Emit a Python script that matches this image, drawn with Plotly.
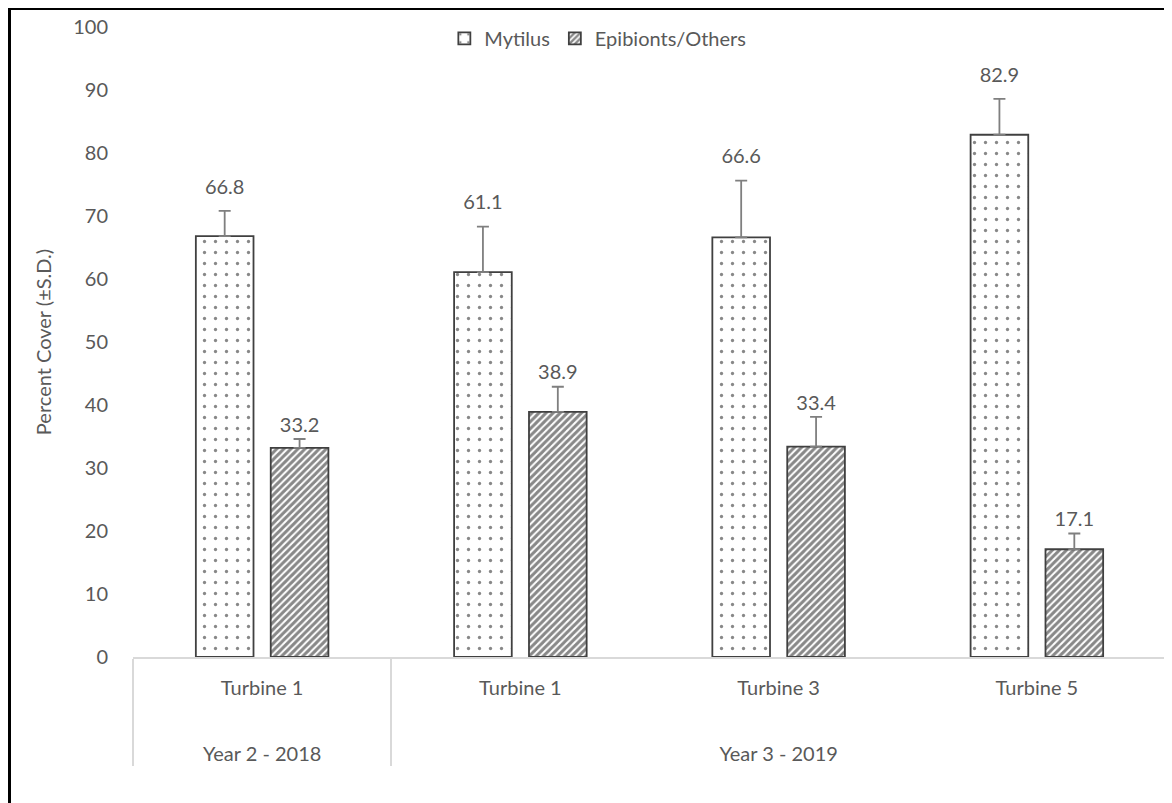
import plotly.graph_objects as go

years = ["Year 2 - 2018", "Year 3 - 2019", "Year 3 - 2019", "Year 3 - 2019"]
turbines = ["Turbine 1", "Turbine 1", "Turbine 3", "Turbine 5"]
mytilus = [66.8, 61.1, 66.6, 82.9]
mytilus_sd = [4.0, 7.2, 9.0, 5.7]
epibionts = [33.2, 38.9, 33.4, 17.1]
epibionts_sd = [1.4, 4.0, 4.7, 2.5]
yticks = [0, 10, 20, 30, 40, 50, 60, 70, 80, 90, 100]

FONT = "Lato"
GRAY = "#595959"
FS = 20
x = [years, [t + "<br> <br> " for t in turbines]]

W, H = 1172, 803
ML, MR, MT, MB = 125, 14, 19, 154
PW, PH = W - ML - MR, H - MT - MB

fig = go.Figure()
fig.add_trace(go.Bar(
    x=x, y=mytilus, name="Mytilus", offsetgroup="m",
    marker=dict(color="white", line=dict(color="#404040", width=1.8),
                pattern=dict(shape=".", fgcolor="#111111", bgcolor="white", size=11, solidity=0.07)),
    error_y=dict(type="data", array=mytilus_sd, symmetric=False, arrayminus=[0]*4,
                 color="#7f7f7f", thickness=1.8, width=6),
))
fig.add_trace(go.Bar(
    x=x, y=epibionts, name="Epibionts/Others", offsetgroup="e",
    marker=dict(color="white", line=dict(color="#404040", width=1.8),
                pattern=dict(shape="/", fgcolor="#111111", bgcolor="white", size=5, solidity=0.6)),
    error_y=dict(type="data", array=epibionts_sd, symmetric=False, arrayminus=[0]*4,
                 color="#7f7f7f", thickness=1.8, width=6),
))
for vals, sds, grp, msize in [(mytilus, mytilus_sd, "m", 18), (epibionts, epibionts_sd, "e", 2)]:
    fig.add_trace(go.Scatter(
        x=x, y=[v + s for v, s in zip(vals, sds)], offsetgroup=grp,
        mode="markers+text", text=[f"{v:.1f}" for v in vals], textposition="top center",
        marker=dict(size=msize, color="rgba(0,0,0,0)"),
        textfont=dict(family=FONT, size=FS, color=GRAY), showlegend=False, hoverinfo="skip",
    ))

fig.update_layout(
    width=W, height=H,
    margin=dict(l=ML, r=MR, t=MT, b=MB, autoexpand=False),
    paper_bgcolor="white", plot_bgcolor="white",
    barmode="group", scattermode="group", bargap=0.42, bargroupgap=0.23,
    font=dict(family=FONT, size=FS, color=GRAY),
    showlegend=True,
    legend=dict(orientation="h", x=0.45, xanchor="center", y=0.982, yanchor="middle",
                font=dict(family=FONT, size=FS, color=GRAY), bgcolor="rgba(0,0,0,0)",
                itemwidth=30, traceorder="normal"),
    xaxis=dict(type="multicategory", showline=True, linecolor="#d9d9d9", linewidth=1.5,
               showgrid=False, showdividers=True, dividercolor="#d9d9d9", dividerwidth=1.5,
               tickfont=dict(family=FONT, size=FS, color=GRAY), ticks="", ticklabelstandoff=12),
    yaxis=dict(range=[0, 100], tickvals=yticks, showgrid=False, showline=False, zeroline=False,
               ticks="outside", ticklen=20, tickcolor="rgba(0,0,0,0)",
               tickfont=dict(family=FONT, size=FS, color=GRAY),
               title=dict(text="Percent Cover (±S.D.)", font=dict(family=FONT, size=20, color=GRAY), standoff=16)),
    shapes=[
        dict(type="line", xref="paper", yref="paper",
             x0=-ML / PW, x1=(W - ML) / PW, y0=(H - MB - 0.5) / PH, y1=(H - MB - 0.5) / PH,
             line=dict(color="black", width=3)),
        dict(type="line", xref="paper", yref="paper",
             x0=(1.5 - ML) / PW, x1=(1.5 - ML) / PW, y0=(H - MB) / PH, y1=-MB / PH,
             line=dict(color="black", width=3)),
    ],
)

fig.write_html("out.html")
